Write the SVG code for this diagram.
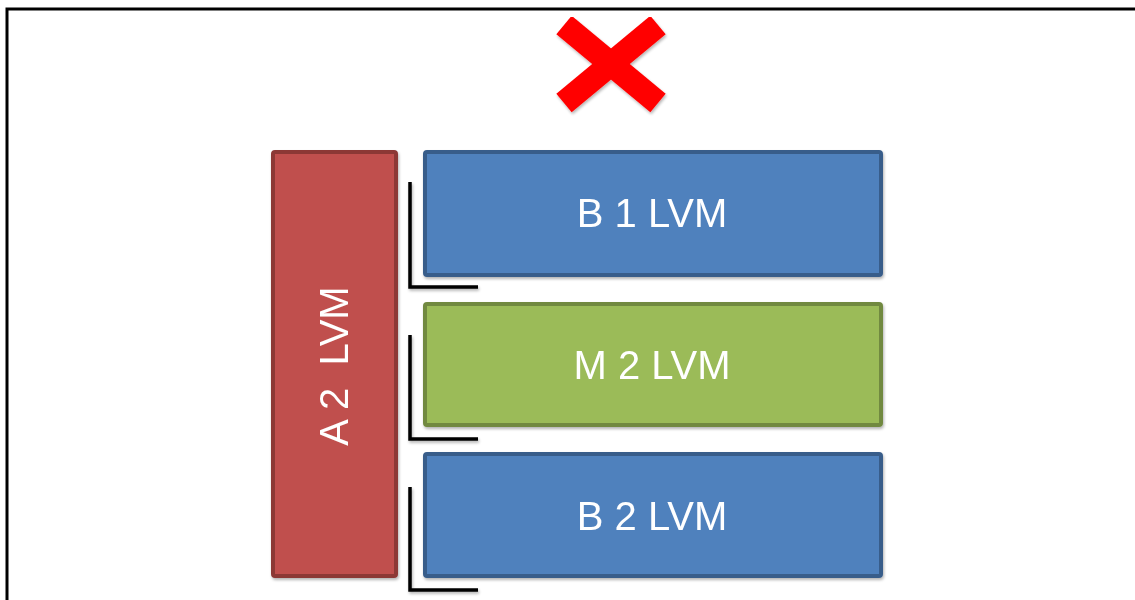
<svg xmlns="http://www.w3.org/2000/svg" width="1135" height="600" viewBox="0 0 1135 600">
<style>
  .lbl { font-family: "Liberation Sans", Arial, sans-serif; font-size: 40px; fill: #ffffff; text-anchor: middle; white-space: pre; }
  .box { stroke-width: 4; }
  .blue { fill: #4F81BD; stroke: #385D8A; }
  .green { fill: #9BBB59; stroke: #71893F; }
  .red { fill: #C0504D; stroke: #8C3836; }
  .brk { fill: none; stroke: #000000; stroke-width: 3.5; }
</style>
<defs>
  <filter id="sh" x="-10%" y="-10%" width="130%" height="130%">
    <feGaussianBlur in="SourceAlpha" stdDeviation="1.5"/>
    <feOffset dx="1" dy="2" result="b"/>
    <feComponentTransfer><feFuncA type="linear" slope="0.3"/></feComponentTransfer>
    <feMerge><feMergeNode/><feMergeNode in="SourceGraphic"/></feMerge>
  </filter>
</defs>
<rect width="1135" height="600" fill="#ffffff"/>
<path d="M7,600 V9 H1135" fill="none" stroke="#000000" stroke-width="3"/>
<g id="xmark" filter="url(#sh)">
  <line x1="564" y1="25" x2="658" y2="103" stroke="#FF0000" stroke-width="24"/>
  <line x1="658" y1="25" x2="564" y2="103" stroke="#FF0000" stroke-width="24"/>
</g>
<g id="connectors" filter="url(#sh)">
  <path class="brk" d="M410,182 V287 H478"/>
  <path class="brk" d="M410,335 V439 H478"/>
  <path class="brk" d="M410,487 V590 H478"/>
</g>
<g id="a2" filter="url(#sh)">
  <rect class="box red" x="273" y="152" width="123" height="424" rx="2"/>
  <text class="lbl" transform="translate(348,366) rotate(-90)">A 2  LVM</text>
</g>
<g id="b1" filter="url(#sh)">
  <rect class="box blue" x="425" y="152" width="456" height="123" rx="2"/>
  <text class="lbl" x="652" y="227">B 1 LVM</text>
</g>
<g id="m2" filter="url(#sh)">
  <rect class="box green" x="425" y="304" width="456" height="121" rx="2"/>
  <text class="lbl" x="652" y="379">M 2 LVM</text>
</g>
<g id="b2" filter="url(#sh)">
  <rect class="box blue" x="425" y="454" width="456" height="122" rx="2"/>
  <text class="lbl" x="652" y="530">B 2 LVM</text>
</g>
</svg>
